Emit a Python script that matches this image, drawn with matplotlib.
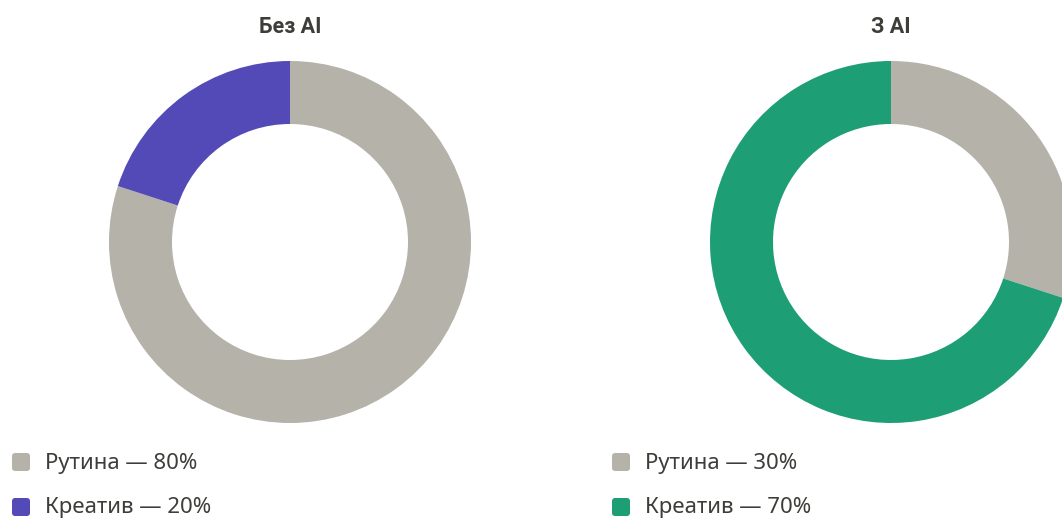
import matplotlib
matplotlib.use("Agg")
import matplotlib.pyplot as plt
from matplotlib.patches import FancyBboxPatch

titles = ["Без AI", "З AI"]
categories = ["Рутина", "Креатив"]
values_without = [80, 20]
values_with = [30, 70]
colors_without = ["#b4b2a9", "#534ab7"]
colors_with = ["#b4b2a9", "#1d9e75"]

plt.rcParams['font.family'] = ['Noto Sans', 'DejaVu Sans']

W, H = 1062, 518
fig = plt.figure(figsize=(W / 100, H / 100), dpi=100)
ax = fig.add_axes([0, 0, 1, 1])

centers_x = [290, 891]
cy = 242
R = 181
width = 63
legend_x = [12, 612]

for i, (title, vals, cols) in enumerate(zip(titles,
                                             [values_without, values_with],
                                             [colors_without, colors_with])):
    cx = centers_x[i]
    ax.pie(vals, colors=cols, startangle=90, counterclock=False,
           center=(cx, -cy), radius=R,
           wedgeprops=dict(width=width, edgecolor='none', linewidth=0))
    ax.text(cx, -27, title, ha='center', va='center', fontsize=15.5,
            fontweight='bold', color='#3d3d3a',
            family=['Roboto', 'DejaVu Sans'])
    for j, (cat, v, c) in enumerate(zip(categories, vals, cols)):
        y = -(462 + j * 45)
        ax.add_patch(FancyBboxPatch((legend_x[i], y - 9), 18, 18,
                                    boxstyle="round,pad=0,rounding_size=3",
                                    facecolor=c, edgecolor='none'))
        ax.text(legend_x[i] + 33, y - 1, f"{cat} — {v}%", ha='left', va='center',
                fontsize=16, color='#3d3d3a')

ax.set_xlim(0, W)
ax.set_ylim(-H, 0)
ax.set_aspect('auto')
ax.axis('off')
fig.savefig("out.png", dpi=100)
